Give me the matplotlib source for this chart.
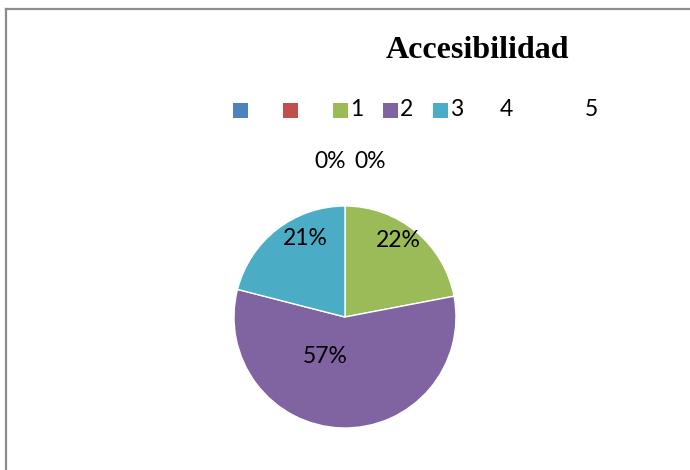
import matplotlib
matplotlib.use("Agg")
import matplotlib.pyplot as plt
from matplotlib.patches import Rectangle
from matplotlib.lines import Line2D

# Data
categories = ["", "", "1", "2", "3", "4", "5"]
values = [0, 0, 22, 57, 21]
colors = ["#4F81BD", "#C0504D", "#9BBB59", "#8064A2", "#4BACC6"]
title = "Accesibilidad"

W, H = 690, 470
fig = plt.figure(figsize=(W / 100, H / 100), dpi=100)
fig.patch.set_facecolor("white")

# outer border (top and left visible)
fig.add_artist(Line2D([6 / W, 1.0], [1 - 9 / H, 1 - 9 / H], color="#8c8c8c", lw=1.6))
fig.add_artist(Line2D([6 / W, 6 / W], [0, 1 - 9 / H], color="#8c8c8c", lw=1.6))

# pie axes
cx, cy, r = 345, 317, 111
ax = fig.add_axes([(cx - r) / W, (H - cy - r) / H, 2 * r / W, 2 * r / H])
wedges, texts, autotexts = ax.pie(values, colors=colors, startangle=90, counterclock=False,
                                  radius=1, autopct=lambda p: f"{p:.0f}%",
                                  wedgeprops=dict(edgecolor="white", linewidth=1),
                                  textprops=dict(family="Lato", fontsize=16.5, color="black"))
ax.set_xlim(-1, 1)
ax.set_ylim(-1, 1)
ax.set_aspect("equal")
ax.axis("off")

label_pos = [(-0.135, 1.40), (0.225, 1.40), (0.48, 0.69), (-0.18, -0.36), (-0.36, 0.71)]
for t, (x, y) in zip(autotexts, label_pos):
    t.set_position((x, y))
    t.set_ha("center")
    t.set_va("center")
    t.set_clip_on(False)

# title
fig.text(477 / W, 1 - 50 / H, title, ha="center", va="center",
         family="Liberation Serif", fontweight="bold", fontsize=23)

# legend (manual)
leg_y = 1 - 110 / H
sq = 15
marker_x = [233, 283, 333, 383, 433]
label_x = [None, None, 350, 400, 450, 500, 585]
for i, cat in enumerate(categories):
    if i < len(colors):
        fig.add_artist(Rectangle((marker_x[i] / W, leg_y - sq / 2 / H), sq / W, sq / H,
                                 transform=fig.transFigure, facecolor=colors[i], edgecolor="none"))
    if cat:
        fig.text(label_x[i] / W, leg_y, cat, ha="left", va="center",
                 family="Lato", fontsize=16.5)

fig.savefig("out.png", dpi=100)
